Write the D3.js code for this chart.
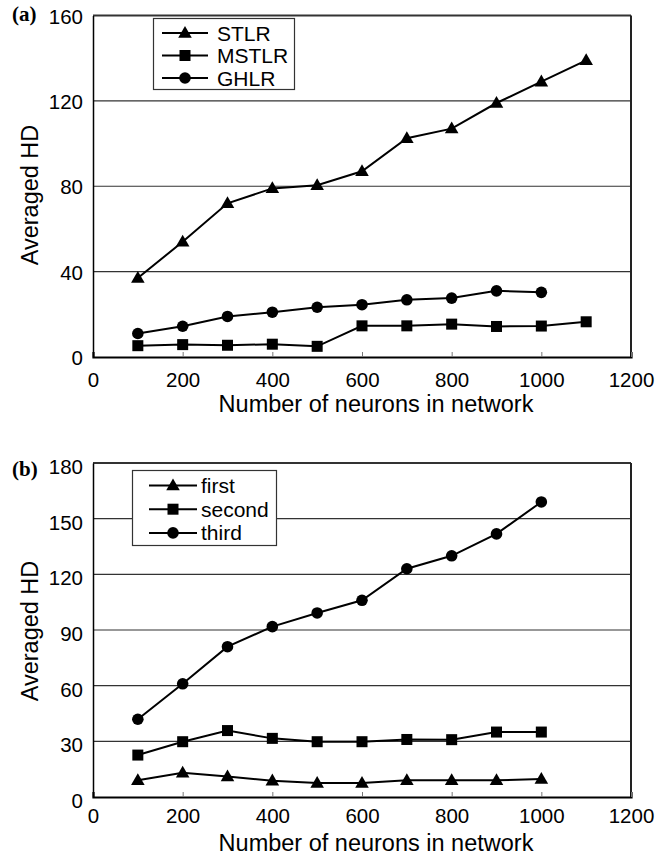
<!DOCTYPE html>
<html><head><meta charset="utf-8">
<script src="https://cdn.jsdelivr.net/npm/d3@7"></script>
<style>
html,body{margin:0;padding:0;background:#fff;}
svg{display:block;}
</style></head>
<body>
<svg id="c" width="663" height="860"></svg>
<script>
const neurons = [100,200,300,400,500,600,700,800,900,1000,1100];
// Panel (a)
const stlr  = [37,54,72,79,80.5,87,102.5,107,119,129,139];
const mstlr = [5.3,5.8,5.5,6,5,14.6,14.6,15.4,14.3,14.5,16.5];
const ghlr  = [11,14.4,19,21,23.3,24.5,26.8,27.6,31,30.3];
const seriesA = ["STLR","MSTLR","GHLR"];
const yTicksA = [0,40,80,120,160];
// Panel (b)
const first  = [9,13,11,8.8,7.5,7.5,9,9,9,9.7];
const second = [22.6,29.8,35.8,31.6,29.8,29.8,31,30.9,35,35];
const third  = [41.9,61,81,91.8,99.2,106,123,130,141.8,159];
const seriesB = ["first","second","third"];
const yTicksB = [0,30,60,90,120,150,180];
const xTicks = [0,200,400,600,800,1000,1200];
const xTitle = "Number of neurons in network";
const yTitle = "Averaged HD";

const SANS = "'Liberation Sans', Arial, Helvetica, sans-serif";
const SERIF = "'Liberation Serif', 'Times New Roman', serif";
const svg = d3.select("#c");
const markers = ["tri","sq","circ"];

function drawMarker(g, type, x, y){
  if(type==="tri"){
    g.append("path").attr("d", d3.symbol(d3.symbolTriangle, 80)()).attr("transform",`translate(${x},${y+0.8})`).attr("fill","#000");
  } else if(type==="sq"){
    g.append("rect").attr("x",x-5.5).attr("y",y-5.5).attr("width",11).attr("height",11).attr("fill","#000");
  } else {
    g.append("circle").attr("cx",x).attr("cy",y).attr("r",5.8).attr("fill","#000");
  }
}

function panel(opt){
  const {top,bottom,left,right,ymax,yTicks,data,names,label,labelY,legend,xLabelY,titleY,yTitleC,yLabDy} = opt;
  const x = d3.scaleLinear().domain([0,1200]).range([left,right]);
  const y = d3.scaleLinear().domain([0,ymax]).range([bottom,top]);
  const g = svg.append("g");
  // gridlines
  g.append("g").selectAll("line").data(yTicks.filter(t=>t>0 && t<ymax)).join("line")
    .attr("x1",left).attr("x2",right).attr("y1",d=>y(d)).attr("y2",d=>y(d))
    .attr("stroke","#333").attr("stroke-width",1.2);
  // frame
  g.append("line").attr("x1",left).attr("x2",right).attr("y1",top).attr("y2",top).attr("stroke","#333").attr("stroke-width",2);
  g.append("line").attr("x1",right).attr("x2",right).attr("y1",top).attr("y2",bottom).attr("stroke","#222").attr("stroke-width",2);
  // axes
  const ax = g.append("g").attr("transform",`translate(0,${bottom})`)
    .call(d3.axisBottom(x).tickValues(xTicks).tickSize(-5).tickPadding(0).tickFormat(d3.format("d")));
  ax.select(".domain").attr("stroke","#000").attr("stroke-width",2.2);
  ax.selectAll(".tick line").attr("stroke","#777");
  ax.selectAll(".tick text").style("font-family",SANS).style("font-size","20.5px").attr("dy",null).attr("y",xLabelY-bottom).attr("fill","#000");
  const ay = g.append("g").attr("transform",`translate(${left},0)`)
    .call(d3.axisLeft(y).tickValues(yTicks).tickSize(0).tickPadding(10));
  ay.select(".domain").attr("stroke","#000").attr("stroke-width",1.5);
  ay.selectAll(".tick text").style("font-family",SANS).style("font-size","20.5px").attr("fill","#000")
    .attr("dy",null).attr("y",yLabDy).attr("dominant-baseline","central");
  // series
  const line = d3.line().x((d,i)=>x(neurons[i])).y(d=>y(d));
  data.forEach((s,k)=>{
    g.append("path").attr("d",line(s)).attr("fill","none").attr("stroke","#000").attr("stroke-width",2);
    s.forEach((v,i)=>drawMarker(g,markers[k],x(neurons[i]),y(v)));
  });
  // titles
  g.append("text").attr("x",376).attr("y",titleY).attr("text-anchor","middle")
    .style("font-family",SANS).style("font-size","23.5px").text(xTitle);
  g.append("text").attr("transform",`translate(38,${yTitleC}) rotate(-90)`).attr("text-anchor","middle")
    .style("font-family",SANS).style("font-size","23.5px").text(yTitle);
  g.append("text").attr("x",12).attr("y",labelY)
    .style("font-family",SERIF).style("font-weight","bold").style("font-size","21px").text(label);
  // legend
  const lg = g.append("g");
  lg.append("rect").attr("x",legend.x).attr("y",legend.y).attr("width",legend.w).attr("height",legend.h)
    .attr("fill","#fff").attr("stroke","#333").attr("stroke-width",1.2);
  names.forEach((n,k)=>{
    const yy = legend.y + legend.r0 + k*legend.dy;
    lg.append("line").attr("x1",legend.lx1).attr("x2",legend.lx2).attr("y1",yy).attr("y2",yy).attr("stroke","#000").attr("stroke-width",2);
    drawMarker(lg,markers[k],(legend.lx1+legend.lx2)/2,yy);
    lg.append("text").attr("x",legend.tx).attr("y",yy+7.5)
      .style("font-family",SANS).style("font-size","21px").text(n);
  });
}

panel({top:15.5,bottom:357,left:93,right:631,ymax:160,yTicks:yTicksA,
  data:[stlr,mstlr,ghlr],names:seriesA,label:"(a)",labelY:21,xLabelY:387,titleY:412,yTitleC:195,yLabDy:0,
  legend:{x:153.5,y:18.5,w:141,h:71,r0:14.5,dy:22.5,lx1:162,lx2:208,tx:217}});
panel({top:463,bottom:797,left:93,right:631,ymax:180,yTicks:yTicksB,
  data:[first,second,third],names:seriesB,label:"(b)",labelY:476,xLabelY:823,titleY:851,yTitleC:631,yLabDy:3,
  legend:{x:132.5,y:470.5,w:144,h:75,r0:15,dy:23.7,lx1:149,lx2:197,tx:201}});
</script>
</body></html>
